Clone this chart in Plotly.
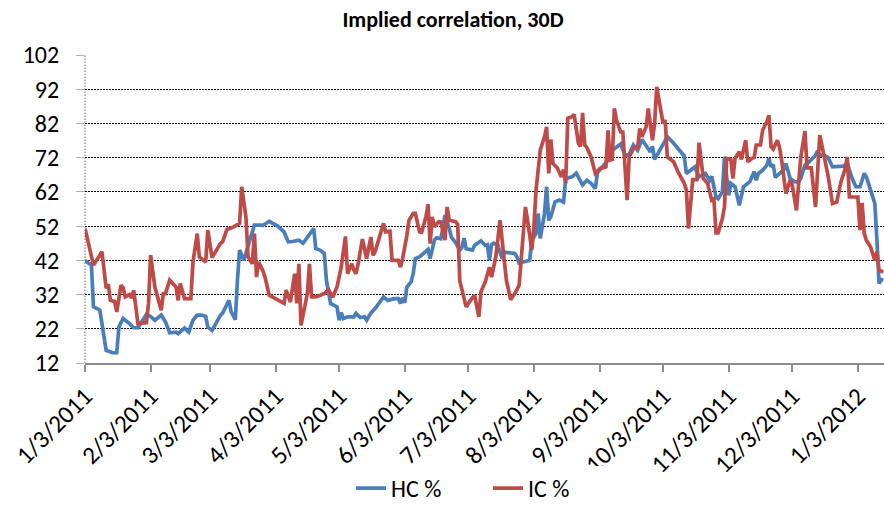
import plotly.graph_objects as go

# ---------------- data ----------------
ic_dates = [
    "2011-01-03","2011-01-06","2011-01-07","2011-01-11","2011-01-13","2011-01-14","2011-01-15","2011-01-17",
    "2011-01-18","2011-01-20","2011-01-21","2011-01-22","2011-01-24","2011-01-25","2011-01-26","2011-01-28",
    "2011-01-31","2011-02-01","2011-02-02","2011-02-03","2011-02-05","2011-02-08","2011-02-09","2011-02-10",
    "2011-02-12","2011-02-15","2011-02-16","2011-02-17","2011-02-19","2011-02-22","2011-02-23","2011-02-25",
    "2011-02-26","2011-03-01","2011-03-02","2011-03-04","2011-03-08","2011-03-09","2011-03-11","2011-03-14",
    "2011-03-17","2011-03-18","2011-03-20","2011-03-21","2011-03-23","2011-03-24","2011-03-25","2011-03-26",
    "2011-03-28","2011-03-29","2011-03-31","2011-04-03","2011-04-07","2011-04-08","2011-04-10","2011-04-12",
    "2011-04-13","2011-04-14","2011-04-15","2011-04-18","2011-04-19","2011-04-20","2011-04-22","2011-04-26",
    "2011-04-28","2011-04-30","2011-05-02","2011-05-04","2011-05-06","2011-05-07","2011-05-09","2011-05-10",
    "2011-05-11","2011-05-12","2011-05-14","2011-05-15","2011-05-16","2011-05-18","2011-05-19","2011-05-20",
    "2011-05-22","2011-05-24","2011-05-25","2011-05-27","2011-05-28","2011-05-31","2011-06-01","2011-06-02",
    "2011-06-04","2011-06-05","2011-06-07","2011-06-08","2011-06-10","2011-06-11","2011-06-13","2011-06-14",
    "2011-06-15","2011-06-16","2011-06-17","2011-06-19","2011-06-20","2011-06-22","2011-06-23","2011-06-24",
    "2011-06-27","2011-06-28","2011-06-29","2011-07-02","2011-07-04","2011-07-06","2011-07-08","2011-07-09",
    "2011-07-11","2011-07-13","2011-07-14","2011-07-16","2011-07-18","2011-07-20","2011-07-21","2011-07-23",
    "2011-07-25","2011-07-27","2011-07-28","2011-07-30","2011-07-31","2011-08-02","2011-08-03","2011-08-04",
    "2011-08-06","2011-08-08","2011-08-09","2011-08-10","2011-08-11","2011-08-12","2011-08-14","2011-08-16",
    "2011-08-17","2011-08-18","2011-08-19","2011-08-21","2011-08-22","2011-08-24","2011-08-25","2011-08-26",
    "2011-08-27","2011-08-28","2011-08-30","2011-08-31","2011-09-01","2011-09-02","2011-09-03","2011-09-06",
    "2011-09-07","2011-09-08","2011-09-09","2011-09-10","2011-09-11","2011-09-13","2011-09-14","2011-09-16",
    "2011-09-17","2011-09-19","2011-09-21","2011-09-22","2011-09-23","2011-09-25","2011-09-26","2011-09-28",
    "2011-09-29","2011-09-30","2011-10-02","2011-10-03","2011-10-04","2011-10-05","2011-10-08","2011-10-10",
    "2011-10-13","2011-10-14","2011-10-15","2011-10-16","2011-10-17","2011-10-19","2011-10-20","2011-10-22",
    "2011-10-24","2011-10-26","2011-10-27","2011-10-28","2011-10-29","2011-10-31","2011-11-01","2011-11-02",
    "2011-11-04","2011-11-05","2011-11-06","2011-11-08","2011-11-09","2011-11-11","2011-11-12","2011-11-14",
    "2011-11-15","2011-11-16","2011-11-18","2011-11-19","2011-11-21","2011-11-22","2011-11-23","2011-11-24",
    "2011-11-26","2011-11-27","2011-11-28","2011-11-30","2011-12-02","2011-12-03","2011-12-05","2011-12-07",
    "2011-12-09","2011-12-10","2011-12-12","2011-12-14","2011-12-16","2011-12-18","2011-12-20","2011-12-22",
    "2011-12-24","2011-12-26","2011-12-28","2011-12-29","2011-12-30","2012-01-03","2012-01-04","2012-01-05",
    "2012-01-06","2012-01-07","2012-01-09","2012-01-11","2012-01-12","2012-01-13","2012-01-15",
]
ic_values = [
    51.3, 43, 40.6, 44.5, 33.8, 35, 30.3, 30,
    26.9, 34.7, 34, 31.3, 32, 31, 33.3, 23.5,
    23.8, 23.8, 29.4, 43.5, 34.2, 27.4, 32.3, 32.3,
    36.2, 34.2, 30.3, 35.2, 30.8, 30.8, 41.5, 49.8,
    43, 41.5, 50.8, 42.8, 47, 47.4, 51, 51.7,
    52.8, 63.5, 54.7, 43, 41, 49.8, 37.1, 41.5,
    39, 37.1, 31.8, 30.8, 29.4, 33.3, 29.8, 38.1,
    29.4, 41, 23, 32.3, 41, 31.3, 31.3, 32.3,
    33.4, 31.2, 34.2, 40, 49, 38.1, 41, 39.1,
    38.1, 41, 48.2, 45.4, 42.5, 48.8, 43.5, 44.5,
    48.3, 52.8, 50.3, 50.5, 42, 42, 40, 42.5,
    49.3, 53.7, 55.7, 55.7, 50.3, 50.2, 54.7, 58.4,
    46.9, 54.7, 51.8, 53.3, 53.2, 47.9, 57.6, 53.7,
    53.3, 52.5, 36, 28.4, 30.3, 31.8, 25.5, 32.8,
    35.7, 40, 37.1, 43, 53.7, 43, 36.2, 30.5,
    32.3, 34.7, 43, 57.6, 53.7, 45, 51.8, 62.5,
    74.2, 78.1, 81, 67.4, 77.3, 70.3, 69, 66.4,
    68.5, 64.5, 83.5, 84, 84.6, 76.2, 75.3, 85.1,
    75.7, 75, 72.2, 69.8, 67.4, 67.9, 68.8, 69.3,
    80, 71.3, 71.5, 86.4, 83, 79.5, 79.5, 59.6,
    72.2, 74.7, 75, 80.5, 78.1, 81, 86.4, 77.1,
    82, 92.7, 85.4, 82, 83, 72.2, 70.8, 67.9,
    64.5, 62.5, 51.3, 58, 65.6, 65.6, 76.4, 65.9,
    64.5, 59.6, 60, 50, 50, 54.2, 57.6, 71.8,
    71.5, 65.9, 71.8, 73.7, 71.5, 77.1, 70.8, 71.8,
    72, 75.7, 75.7, 80, 82.5, 84.4, 75.2, 74.5,
    77.1, 75, 71.3, 61.5, 65.4, 64, 56.6, 72,
    79.8, 69, 69, 57.6, 78.6, 72.7, 66.4, 58.6,
    59, 64.9, 68.8, 72.2, 60.5, 60.5, 50.8, 58.8,
    49.8, 47.9, 45.9, 42, 44.5, 39.1, 38.6,
]

hc_dates = [
    "2011-01-03","2011-01-05","2011-01-06","2011-01-07","2011-01-10","2011-01-12","2011-01-13","2011-01-16",
    "2011-01-18","2011-01-19","2011-01-21","2011-01-24","2011-01-26","2011-01-28","2011-02-01","2011-02-03",
    "2011-02-05","2011-02-08","2011-02-10","2011-02-12","2011-02-15","2011-02-16","2011-02-19","2011-02-21",
    "2011-02-23","2011-02-25","2011-02-27","2011-03-01","2011-03-02","2011-03-04","2011-03-06","2011-03-08",
    "2011-03-09","2011-03-12","2011-03-13","2011-03-15","2011-03-16","2011-03-17","2011-03-19","2011-03-22",
    "2011-03-24","2011-03-27","2011-03-28","2011-03-31","2011-04-04","2011-04-07","2011-04-09","2011-04-11",
    "2011-04-14","2011-04-16","2011-04-18","2011-04-21","2011-04-22","2011-04-24","2011-04-26","2011-04-27",
    "2011-04-29","2011-05-02","2011-05-03","2011-05-04","2011-05-05","2011-05-07","2011-05-10","2011-05-11",
    "2011-05-13","2011-05-15","2011-05-16","2011-05-18","2011-05-20","2011-05-22","2011-05-24","2011-05-26",
    "2011-05-29","2011-05-31","2011-06-01","2011-06-02","2011-06-03","2011-06-04","2011-06-06","2011-06-07",
    "2011-06-08","2011-06-10","2011-06-12","2011-06-14","2011-06-15","2011-06-16","2011-06-17","2011-06-18",
    "2011-06-20","2011-06-21","2011-06-22","2011-06-24","2011-06-25","2011-06-27","2011-06-29","2011-06-30",
    "2011-07-01","2011-07-02","2011-07-05","2011-07-06","2011-07-09","2011-07-11","2011-07-12","2011-07-13",
    "2011-07-14","2011-07-15","2011-07-17","2011-07-18","2011-07-19","2011-07-20","2011-07-23","2011-07-25",
    "2011-07-26","2011-07-27","2011-07-29","2011-08-01","2011-08-02","2011-08-04","2011-08-05","2011-08-06",
    "2011-08-08","2011-08-09","2011-08-10","2011-08-11","2011-08-13","2011-08-15","2011-08-17","2011-08-18",
    "2011-08-21","2011-08-23","2011-08-26","2011-08-28","2011-08-30","2011-09-01","2011-09-02","2011-09-05",
    "2011-09-07","2011-09-09","2011-09-12","2011-09-13","2011-09-15","2011-09-17","2011-09-19","2011-09-21",
    "2011-09-23","2011-09-25","2011-09-27","2011-09-28","2011-09-29","2011-10-01","2011-10-03","2011-10-05",
    "2011-10-08","2011-10-10","2011-10-13","2011-10-14","2011-10-16","2011-10-18","2011-10-20","2011-10-23",
    "2011-10-25","2011-10-26","2011-10-28","2011-10-29","2011-10-31","2011-11-01","2011-11-03","2011-11-04",
    "2011-11-06","2011-11-07","2011-11-08","2011-11-10","2011-11-11","2011-11-13","2011-11-15","2011-11-16",
    "2011-11-17","2011-11-19","2011-11-21","2011-11-22","2011-11-23","2011-11-24","2011-11-25","2011-11-27",
    "2011-11-29","2011-11-30","2011-12-02","2011-12-04","2011-12-06","2011-12-07","2011-12-09","2011-12-11",
    "2011-12-14","2011-12-15","2011-12-16","2011-12-18","2011-12-20","2011-12-22","2011-12-25","2011-12-27",
    "2011-12-29","2011-12-31","2012-01-02","2012-01-04","2012-01-06","2012-01-07","2012-01-09","2012-01-11",
    "2012-01-12","2012-01-13","2012-01-14","2012-01-15",
]
hc_values = [
    42, 41, 41, 28.4, 27.5, 20.6, 15.7, 15,
    15, 22.5, 25, 23.5, 22.3, 22.3, 26.2, 25.6,
    24.5, 26, 24, 20.8, 21, 20.6, 22.2, 21,
    24.5, 26, 26, 25.6, 22.5, 21.5, 24, 26,
    26.6, 30.3, 27, 24.7, 36.2, 45, 42, 47.9,
    52.3, 52.3, 52.2, 53.4, 52, 50.3, 47.4, 47.5,
    47.9, 47, 48.8, 51.3, 45.4, 45, 44, 36.2,
    29.4, 28.4, 24.5, 26.7, 25, 25.5, 25.5, 26.5,
    25.3, 25.5, 24.5, 26.6, 27.9, 29.4, 31.3, 30.3,
    30.8, 30.8, 29.4, 31, 29.6, 34.2, 35.7, 38.1,
    42.5, 43, 44, 45.2, 42.5, 45.9, 47.9, 48.6,
    48.3, 51.3, 55.2, 51.3, 48.8, 47.2, 45, 45.7,
    48.5, 45.4, 45, 46.4, 47.7, 46.4, 46.6, 42,
    46.6, 47, 46.4, 44.4, 42.5, 44.4, 44.1, 44,
    43, 41.2, 41.5, 42, 47.9, 49.8, 55.7, 48.4,
    55.7, 63.5, 53.7, 54.7, 59.1, 59.6, 59, 65.9,
    66.4, 67.5, 64, 65.4, 64.5, 63, 67.6, 69.8,
    71.3, 74.2, 75.7, 76, 72.7, 72.9, 75.7, 74.2,
    77.3, 75.5, 73.7, 75.3, 71.5, 73.7, 75.7, 78.1,
    76.2, 74.7, 72.5, 67.4, 68.5, 69.3, 66.4, 67.4,
    65.4, 66.5, 60.5, 60, 62, 72.2, 61, 64.5,
    63.5, 61, 58.1, 63.5, 64, 65, 67.9, 65.4,
    67.4, 68.3, 69.8, 71.8, 69.3, 70, 66.2, 67.2,
    68.5, 70.3, 65.9, 65, 64.9, 65.9, 69.8, 70.8,
    72.7, 74, 72.7, 72.7, 72, 69.3, 69.3, 69.5,
    70.3, 66.4, 63.5, 63.5, 67.4, 66.4, 62.5, 58.6,
    47.9, 35.2, 36.4, 36.2,
]

y_ticks = [12, 22, 32, 42, 52, 62, 72, 82, 92, 102]
x_range = ["2011-01-03", "2012-01-15 08:00"]

FONT = "Carlito, Lato, 'Liberation Sans', sans-serif"

fig = go.Figure()
fig.add_trace(go.Scatter(x=hc_dates, y=hc_values, mode="lines", name="HC %",
                         line=dict(color="#4A7EBB", width=3.7)))
fig.add_trace(go.Scatter(x=ic_dates, y=ic_values, mode="lines", name="IC %",
                         line=dict(color="#BE4B48", width=3.7)))

fig.update_layout(
    width=884, height=511,
    margin=dict(l=85, r=0, t=55, b=148),
    paper_bgcolor="white", plot_bgcolor="white",
    font=dict(family=FONT, size=24, color="black"),
    title=dict(text="<b>Implied correlation, 30D</b>", x=453/884, xanchor="center",
               xref="container", y=1-19/511, yanchor="middle", yref="container",
               font=dict(size=22, family=FONT, color="black")),
    showlegend=True,
    legend=dict(orientation="h", xref="container", yref="container",
                x=488/884, xanchor="center", y=0.0, yanchor="bottom",
                font=dict(size=24), traceorder="normal",
                entrywidth=92, entrywidthmode="pixels"),
    xaxis=dict(type="date", range=x_range, tick0="2011-01-03", dtick="M1",
               tickformat="%-m/%-d/%Y", tickangle=-45, ticks="outside", ticklen=7,
               tickcolor="#8c8c8c", tickwidth=1.5, showline=True, linecolor="#8c8c8c",
               linewidth=1.5, showgrid=False, zeroline=False, tickfont=dict(size=25),
               automargin=False),
    yaxis=dict(range=[12, 102], tickvals=y_ticks, ticks="outside", ticklen=8,
               tickcolor="#b0b0b0", showline=False, showgrid=True, gridcolor="black",
               gridwidth=1.3, griddash="1.5px,1.5px", zeroline=False,
               tickfont=dict(size=24), ticklabelstandoff=12, automargin=False),
)
fig.add_shape(type="line", xref="paper", yref="paper", x0=0, x1=0, y0=0, y1=1,
              line=dict(color="#8c8c8c", width=1.3, dash="1.5px,1.5px"), layer="below")

fig.write_html("out.html", config={"displayModeBar": False},
               post_script="document.body.style.margin='0';document.body.style.overflow='hidden';")
